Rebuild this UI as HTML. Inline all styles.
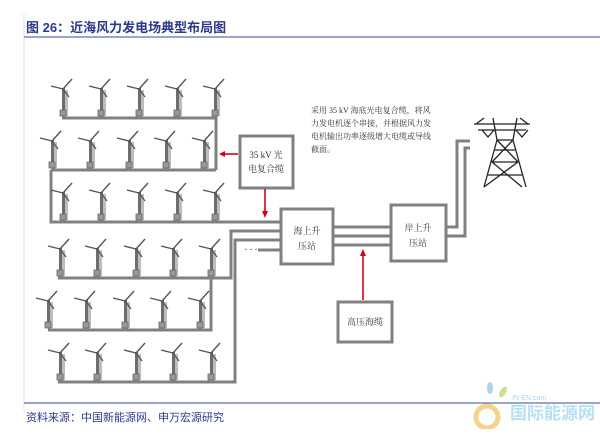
<!DOCTYPE html>
<html><head><meta charset="utf-8"><style>
body{margin:0;background:#fff;width:600px;height:429px;overflow:hidden;font-family:"Liberation Serif","Noto Serif CJK SC",serif;}
</style></head><body>
<svg width="600" height="429" viewBox="0 0 600 429" xmlns="http://www.w3.org/2000/svg">
<defs>
<g id="t">
<rect x="-1" y="8" width="3" height="28" fill="#6d6d6d"/>
<rect x="2" y="10" width="3" height="26" fill="#bdbdbd"/>
<rect x="-3" y="30" width="6" height="6" fill="#999" stroke="#666" stroke-width="0.8"/>
<path d="M0 9 L9 -1 M0 9 L-12 6 M0 9 L6 17" stroke="#555" stroke-width="1.4" fill="none"/>
</g>
</defs>
<line x1="24" y1="15" x2="24" y2="412" stroke="#bbb" stroke-width="0.8" stroke-dasharray="1,1"/>
<text x="26" y="32" font-size="13" fill="#2d3a8c" font-weight="bold" font-family="'Liberation Sans','Noto Sans CJK SC',sans-serif">图 26：近海风力发电场典型布局图</text>
<line x1="24" y1="37" x2="600" y2="37" stroke="#3b4a9a" stroke-width="1"/>
<line x1="24" y1="403" x2="600" y2="403" stroke="#3b4a9a" stroke-width="1"/>
<text x="26" y="421" font-size="11" fill="#2d3a8c" font-family="'Liberation Sans','Noto Sans CJK SC',sans-serif">资料来源：中国新能源网、申万宏源研究</text>
<g fill="none" stroke="#808080" stroke-width="3">
<path d="M62 118 H216 V170"/>
<path d="M51 170 H216"/>
<path d="M51 170 V222 H280"/>
<path d="M58 278 H231 V231 H280"/>
<path d="M48 330 H211 V278"/>
<path d="M58 382 H235 V240 H280"/>
<path d="M258 250 H280"/>
<path d="M333 227 H391 M333 236 H391 M333 245 H391"/>
<path d="M446 227 H457 V141 H470 M446 236 H465 V148 H470"/>
</g>
<text x="244" y="253" font-size="12" fill="#555" letter-spacing="1">···</text>
<g>
<use href="#t" x="63" y="80"/><use href="#t" x="101" y="80"/><use href="#t" x="139" y="80"/><use href="#t" x="177" y="80"/><use href="#t" x="215" y="80"/>
<use href="#t" x="52" y="132"/><use href="#t" x="90" y="132"/><use href="#t" x="129" y="132"/><use href="#t" x="166" y="132"/><use href="#t" x="204" y="132"/>
<use href="#t" x="63" y="184"/><use href="#t" x="101" y="184"/><use href="#t" x="139" y="184"/><use href="#t" x="177" y="184"/><use href="#t" x="215" y="184"/>
<use href="#t" x="60" y="240"/><use href="#t" x="97" y="240"/><use href="#t" x="136" y="240"/><use href="#t" x="173" y="240"/><use href="#t" x="211" y="240"/>
<use href="#t" x="48" y="292"/><use href="#t" x="86" y="292"/><use href="#t" x="125" y="292"/><use href="#t" x="162" y="292"/><use href="#t" x="200" y="292"/>
<use href="#t" x="60" y="344"/><use href="#t" x="97" y="344"/><use href="#t" x="136" y="344"/><use href="#t" x="173" y="344"/><use href="#t" x="211" y="344"/>
</g>
<g fill="#fff" stroke="#808080" stroke-width="3">
<rect x="240" y="136" width="53" height="52"/>
<rect x="281" y="209" width="52" height="55"/>
<rect x="391" y="205" width="55" height="56"/>
<rect x="338" y="302" width="54" height="40"/>
</g>
<g fill="#333" font-size="9" text-anchor="middle">
<text x="266" y="158">35 kV 光</text><text x="266" y="172">电复合缆</text>
<text x="307" y="234">海上升</text><text x="307" y="249">压站</text>
<text x="418" y="231">岸上升</text><text x="418" y="246">压站</text>
<text x="365" y="325">高压海缆</text>
</g>
<g fill="#333" font-size="8">
<text x="311" y="113">采用 35 kV 海底光电复合缆，将风</text>
<text x="311" y="126">力发电机逐个串接，并根据风力发</text>
<text x="311" y="139">电机输出功率逐级增大电缆或导线</text>
<text x="311" y="152">截面。</text>
</g>
<g stroke="#d0021b" stroke-width="1.6" fill="#d0021b">
<line x1="238" y1="154" x2="224" y2="154"/><polygon points="219,154 225,151 225,157" stroke="none"/>
<line x1="265" y1="189" x2="265" y2="212"/><polygon points="265,218 262,211 268,211" stroke="none"/>
<line x1="363" y1="300" x2="363" y2="255"/><polygon points="363,249 360,256 366,256" stroke="none"/>
</g>
<g stroke="#222" stroke-width="1.3" fill="none">
<path d="M474 124 H530 M478 130 H526 M476 124 L484 118 M528 124 L520 118"/>
<path d="M493 118 L497 140 L484 187 M517 118 L513 140 L526 187"/>
<path d="M497 140 H513 M495 150 H515 M492 162 H518 M488 175 H522 M497 140 L518 162 M513 140 L492 162 M492 162 L522 187 M518 162 L484 187"/>
<path d="M482 130 L488 137 L494 130 M516 130 L522 137 L528 130"/>
</g>
<g opacity="0.55">
<circle cx="487" cy="417" r="11" fill="none" stroke="#f0b030" stroke-width="5"/>
<ellipse cx="490" cy="388" rx="3" ry="6" fill="#6ab0e0"/>
<ellipse cx="503" cy="392" rx="3" ry="6" fill="#9ccc40" transform="rotate(30 503 392)"/>
<text x="512" y="400" font-size="7" fill="#6ab0e0" font-family="'Liberation Sans',sans-serif">IN-EN.com</text>
<text x="510" y="419" font-size="17" fill="#7ec6ea" font-weight="bold" font-family="'Liberation Sans','Noto Sans CJK SC',sans-serif">国际能源网</text>
</g>
</svg>
</body></html>
